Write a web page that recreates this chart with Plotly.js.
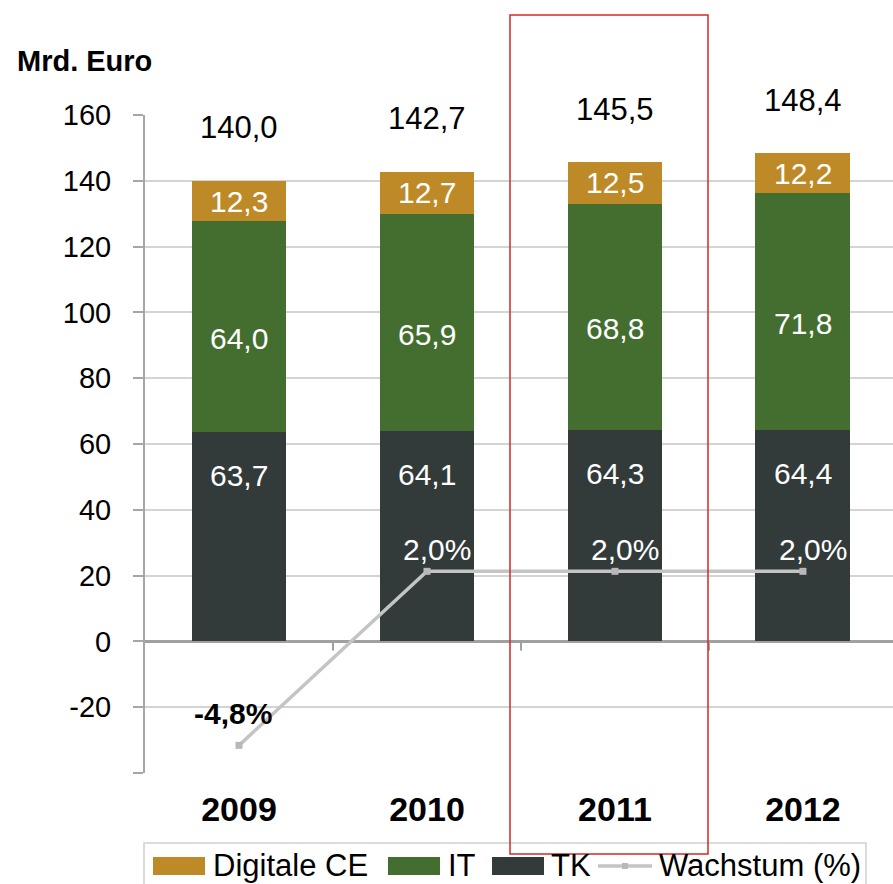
<!DOCTYPE html>
<html>
<head>
<meta charset="utf-8">
<script src="https://cdn.plot.ly/plotly-3.0.1.min.js"></script>
<style>html,body{margin:0;padding:0;background:#fff;}#chart{width:893px;height:884px;}</style>
</head>
<body>
<div id="chart"></div>
<script>
var years = ['2009', '2010', '2011', '2012'];
var tk = [63.7, 64.1, 64.3, 64.4];
var it = [64.0, 65.9, 68.8, 71.8];
var ce = [12.3, 12.7, 12.5, 12.2];
var totals = [140.0, 142.7, 145.5, 148.4];
var growth = [-4.8, 2.0, 2.0, 2.0];
var seriesNames = ['Digitale CE', 'IT', 'TK', 'Wachstum (%)'];
var yTickVals = [-40, -20, 0, 20, 40, 60, 80, 100, 120, 140, 160];
var yTickText = ['', '-20', '0', '20', '40', '60', '80', '100', '120', '140', '160'];

var FONT = 'Liberation Sans, Arial, sans-serif';
var C_CE = '#be8a28', C_IT = '#436e30', C_TK = '#333a3a', C_LINE = '#c4c4c4';

function fmt(v) { return v.toFixed(1).replace('.', ','); }

var xs = years.map(function (y, i) { return i; });

var traces = [
  { type: 'bar', name: seriesNames[2], x: xs, y: tk, marker: { color: C_TK, line: { width: 0 } }, width: 0.505, hoverinfo: 'skip' },
  { type: 'bar', name: seriesNames[1], x: xs, y: it, marker: { color: C_IT, line: { width: 0 } }, width: 0.505, hoverinfo: 'skip' },
  { type: 'bar', name: seriesNames[0], x: xs, y: ce, marker: { color: C_CE, line: { width: 0 } }, width: 0.505, hoverinfo: 'skip' },
  { type: 'scatter', mode: 'lines+markers', name: seriesNames[3], x: xs, y: growth, yaxis: 'y2',
    line: { color: C_LINE, width: 3.5 }, marker: { symbol: 'square', size: 7, color: '#b8b8b8' }, hoverinfo: 'skip' }
];

var ann = [];
xs.forEach(function (x, i) {
  ann.push({ x: x, y: totals[i], xref: 'x', yref: 'y', text: fmt(totals[i]), showarrow: false,
    yanchor: 'middle', yshift: 53, font: { family: FONT, size: 31, color: '#000' } });
  ann.push({ x: x, y: tk[i], xref: 'x', yref: 'y', text: fmt(tk[i]), showarrow: false,
    yanchor: 'middle', yshift: -44, font: { family: FONT, size: 30, color: '#fff' } });
  ann.push({ x: x, y: tk[i] + it[i] / 2, xref: 'x', yref: 'y', text: fmt(it[i]), showarrow: false,
    yanchor: 'middle', yshift: -12, font: { family: FONT, size: 30, color: '#fff' } });
  ann.push({ x: x, y: tk[i] + it[i] + ce[i] / 2, xref: 'x', yref: 'y', text: fmt(ce[i]), showarrow: false,
    yanchor: 'middle', yshift: 0, font: { family: FONT, size: 30, color: '#fff' } });
  var neg = growth[i] < 0;
  ann.push({ x: x, y: growth[i], xref: 'x', yref: 'y2', text: fmt(growth[i]) + '%', showarrow: false,
    yanchor: 'middle', yshift: neg ? 32 : 22, xshift: neg ? -6 : 10,
    font: { family: FONT, size: 30, color: neg ? '#000' : '#fff', weight: neg ? 'bold' : 'normal' } });
});

function px(v) { return (v - 145) / 748; }
function py(v) { return (773 - v) / 658; }

ann.push({ x: px(15), y: py(61), xref: 'paper', yref: 'paper', text: '<b>Mrd. Euro</b>', showarrow: false,
  xanchor: 'left', yanchor: 'middle', font: { family: FONT, size: 29, color: '#000' } });

var legendItems = [
  { name: seriesNames[0], color: C_CE, sx: 153, tx: 211 },
  { name: seriesNames[1], color: C_IT, sx: 388, tx: 446 },
  { name: seriesNames[2], color: C_TK, sx: 492, tx: 549 }
];
var shapes = [];
shapes.push({ type: 'rect', xref: 'paper', yref: 'paper', x0: px(144), x1: px(866), y0: py(895), y1: py(843),
  line: { color: '#d0d0d0', width: 1.5 }, fillcolor: 'rgba(0,0,0,0)' });
legendItems.forEach(function (it2) {
  shapes.push({ type: 'rect', xref: 'paper', yref: 'paper', x0: px(it2.sx), x1: px(it2.sx + 52), y0: py(875), y1: py(857),
    line: { width: 0 }, fillcolor: it2.color });
  ann.push({ x: px(it2.tx), y: py(866), xref: 'paper', yref: 'paper', text: it2.name, showarrow: false,
    xanchor: 'left', yanchor: 'middle', font: { family: FONT, size: 31, color: '#000' } });
});
shapes.push({ type: 'line', xref: 'paper', yref: 'paper', x0: px(598), x1: px(652), y0: py(866), y1: py(866),
  line: { color: C_LINE, width: 3.5 } });
shapes.push({ type: 'rect', xref: 'paper', yref: 'paper', x0: px(622), x1: px(628), y0: py(869), y1: py(863),
  line: { width: 0 }, fillcolor: '#b8b8b8' });
ann.push({ x: px(657), y: py(866), xref: 'paper', yref: 'paper', text: seriesNames[3], showarrow: false,
  xanchor: 'left', yanchor: 'middle', font: { family: FONT, size: 31, color: '#000' } });

[0.5, 1.5, 2.5].forEach(function (b) {
  shapes.push({ type: 'line', xref: 'x', yref: 'y', x0: b, x1: b, y0: 0, y1: -2.8,
    line: { color: '#a0a0a0', width: 2 } });
});

shapes.push({ type: 'rect', xref: 'paper', yref: 'paper', x0: px(510), x1: px(708), y0: py(854), y1: py(15),
  line: { color: '#d42a2a', width: 1.5 }, fillcolor: 'rgba(0,0,0,0)', layer: 'above' });

var layout = {
  width: 893, height: 884,
  margin: { l: 145, r: 0, t: 115, b: 111, pad: 0 },
  paper_bgcolor: '#fff', plot_bgcolor: '#fff',
  barmode: 'stack',
  showlegend: false,
  font: { family: FONT, color: '#000' },
  xaxis: {
    range: [-0.5, 3.479], tickmode: 'array', tickvals: xs, ticktext: years,
    tickfont: { family: FONT, size: 34, color: '#000', weight: 'bold' },
    ticks: '', showgrid: false, zeroline: false, showline: false,
    ticklabelstandoff: 13, fixedrange: true
  },
  yaxis: {
    range: [-40, 160], tickmode: 'array', tickvals: yTickVals, ticktext: yTickText,
    tickfont: { family: FONT, size: 29, color: '#000' },
    showgrid: true, gridcolor: '#d4d4d4', gridwidth: 2,
    showline: true, linecolor: '#a6a6a6', linewidth: 2,
    ticks: 'outside', ticklen: 10, tickwidth: 2, tickcolor: '#a6a6a6',
    zeroline: true, zerolinecolor: '#a0a0a0', zerolinewidth: 3,
    ticklabelstandoff: 16, fixedrange: true
  },
  yaxis2: {
    overlaying: 'y', range: [-5.88, 19.83], visible: false, showgrid: false, zeroline: false, fixedrange: true
  },
  annotations: ann,
  shapes: shapes
};

Plotly.newPlot('chart', traces, layout, { displayModeBar: false, staticPlot: true });
</script>
</body>
</html>
